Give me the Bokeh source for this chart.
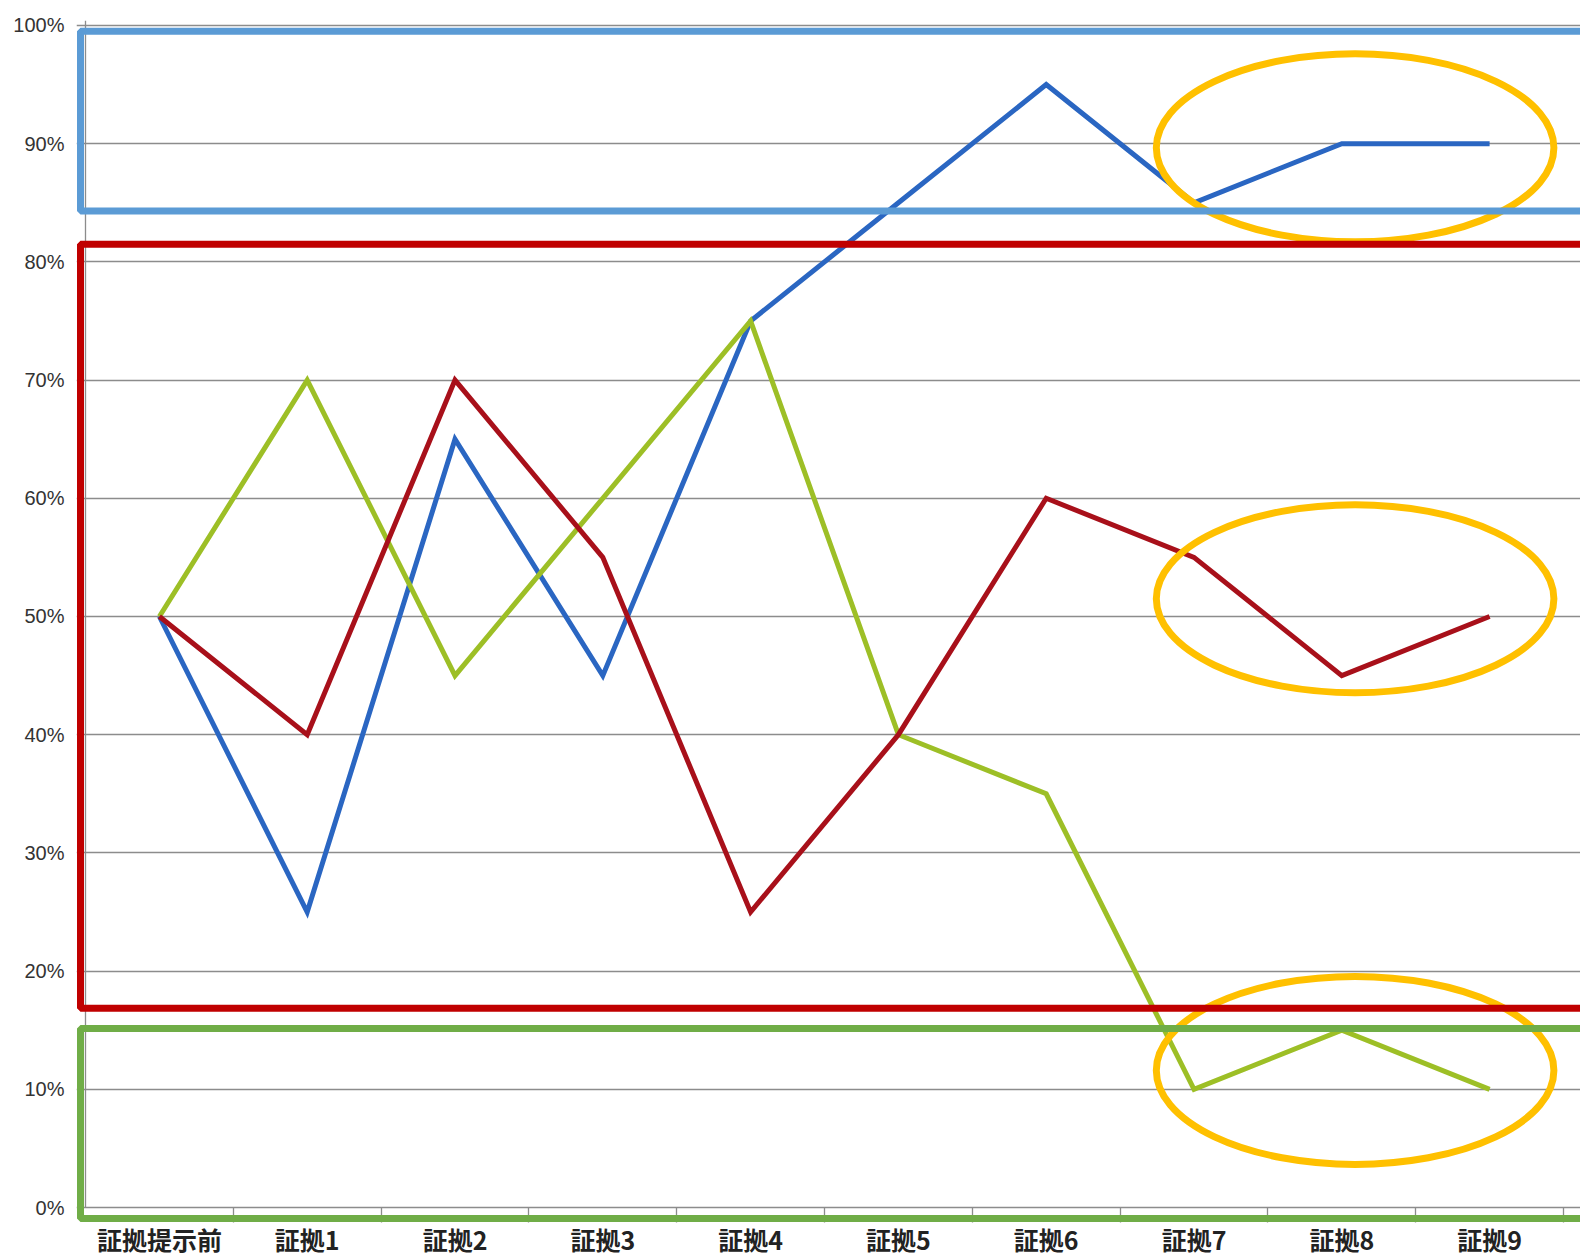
from bokeh.plotting import figure
from bokeh.models import Range1d, FixedTicker, BoxAnnotation
from bokeh.embed import file_html
from bokeh.resources import INLINE

categories = ["証拠提示前", "証拠1", "証拠2", "証拠3", "証拠4", "証拠5", "証拠6", "証拠7", "証拠8", "証拠9"]
blue_vals = [50, 25, 65, 45, 75, 85, 95, 85, 90, 90]
red_vals = [50, 40, 70, 55, 25, 40, 60, 55, 45, 50]
green_vals = [50, 70, 45, 60, 75, 40, 35, 10, 15, 10]
y_ticks = [0, 10, 20, 30, 40, 50, 60, 70, 80, 90, 100]
y_labels = ["0%", "10%", "20%", "30%", "40%", "50%", "60%", "70%", "80%", "90%", "100%"]

# highlighted bands (percent ranges) and ellipse highlights
band_blue = (84.3, 99.5)
band_red = (16.85, 81.5)
band_green = (-0.93, 15.15)
ellipse_x = [8.59, 8.59, 8.59]
ellipse_y = [89.65, 51.5, 11.6]

n = len(categories)
x = [i + 0.5 for i in range(n)]

# frame: x 0..n spans 85..1563 px, y 0..100 spans 1209..25 px
p = figure(width=1580, height=1259, output_backend="svg", toolbar_location=None,
           x_range=Range1d(-0.0609, n + 0.115), y_range=Range1d(-1.267, 100.42),
           min_border_left=76, min_border_right=0, min_border_top=20, min_border_bottom=35)
p.outline_line_color = None
p.background_fill_color = "white"
p.border_fill_color = "white"

# x axis (its line is replaced by the 0% grid line)
xa = p.xaxis[0]
xa.ticker = FixedTicker(ticks=x, minor_ticks=[i + 1 for i in range(n)])
xa.major_label_overrides = {xx: c for xx, c in zip(x, categories)}
xa.major_tick_out = 0
xa.major_tick_in = 0
xa.minor_tick_out = 0
xa.minor_tick_in = 15
xa.minor_tick_line_color = "#8c8c8c"
xa.minor_tick_line_width = 1.3
xa.axis_line_color = None
xa.major_label_text_font = "Noto Sans CJK JP"
xa.major_label_text_font_style = "bold"
xa.major_label_text_font_size = "25px"
xa.major_label_text_color = "#222222"
xa.major_label_standoff = -2

ya = p.yaxis[0]
ya.ticker = FixedTicker(ticks=y_ticks)
ya.major_label_overrides = {t: l for t, l in zip(y_ticks, y_labels)}
ya.major_tick_out = 0
ya.major_tick_in = 0
ya.minor_tick_out = 0
ya.minor_tick_in = 0
ya.axis_line_color = None
ya.major_label_text_font = "Liberation Sans"
ya.major_label_text_font_size = "20px"
ya.major_label_text_color = "#333333"
ya.major_label_standoff = 12

p.xgrid.grid_line_color = None
p.ygrid.ticker = FixedTicker(ticks=y_ticks)
p.ygrid.grid_line_color = "#8c8c8c"
p.ygrid.grid_line_width = 1.3

# visible value-axis line at x = 0
p.segment(x0=[0], y0=[0], x1=[0], y1=[100.42], line_color="#8c8c8c", line_width=1.3)

# series
p.line(x, blue_vals, line_color="#2a66c2", line_width=5, line_join="miter")
p.line(x, green_vals, line_color="#9dbf26", line_width=5, line_join="miter")
p.line(x, red_vals, line_color="#a8101a", line_width=5, line_join="miter")

# highlight boxes
for (lo, hi), col in [(band_blue, "#5b9bd5"), (band_red, "#c00000"), (band_green, "#70ad47")]:
    p.add_layout(BoxAnnotation(left=-0.034, right=n + 0.6, bottom=lo, top=hi,
                               fill_color=None, fill_alpha=0, line_color=col, line_width=7,
                               line_alpha=1))

p.ellipse(ellipse_x, ellipse_y, width=2.69, height=15.9, fill_color=None,
          line_color="#ffc000", line_width=7)

open("out.html", "w").write(file_html(p, INLINE))
